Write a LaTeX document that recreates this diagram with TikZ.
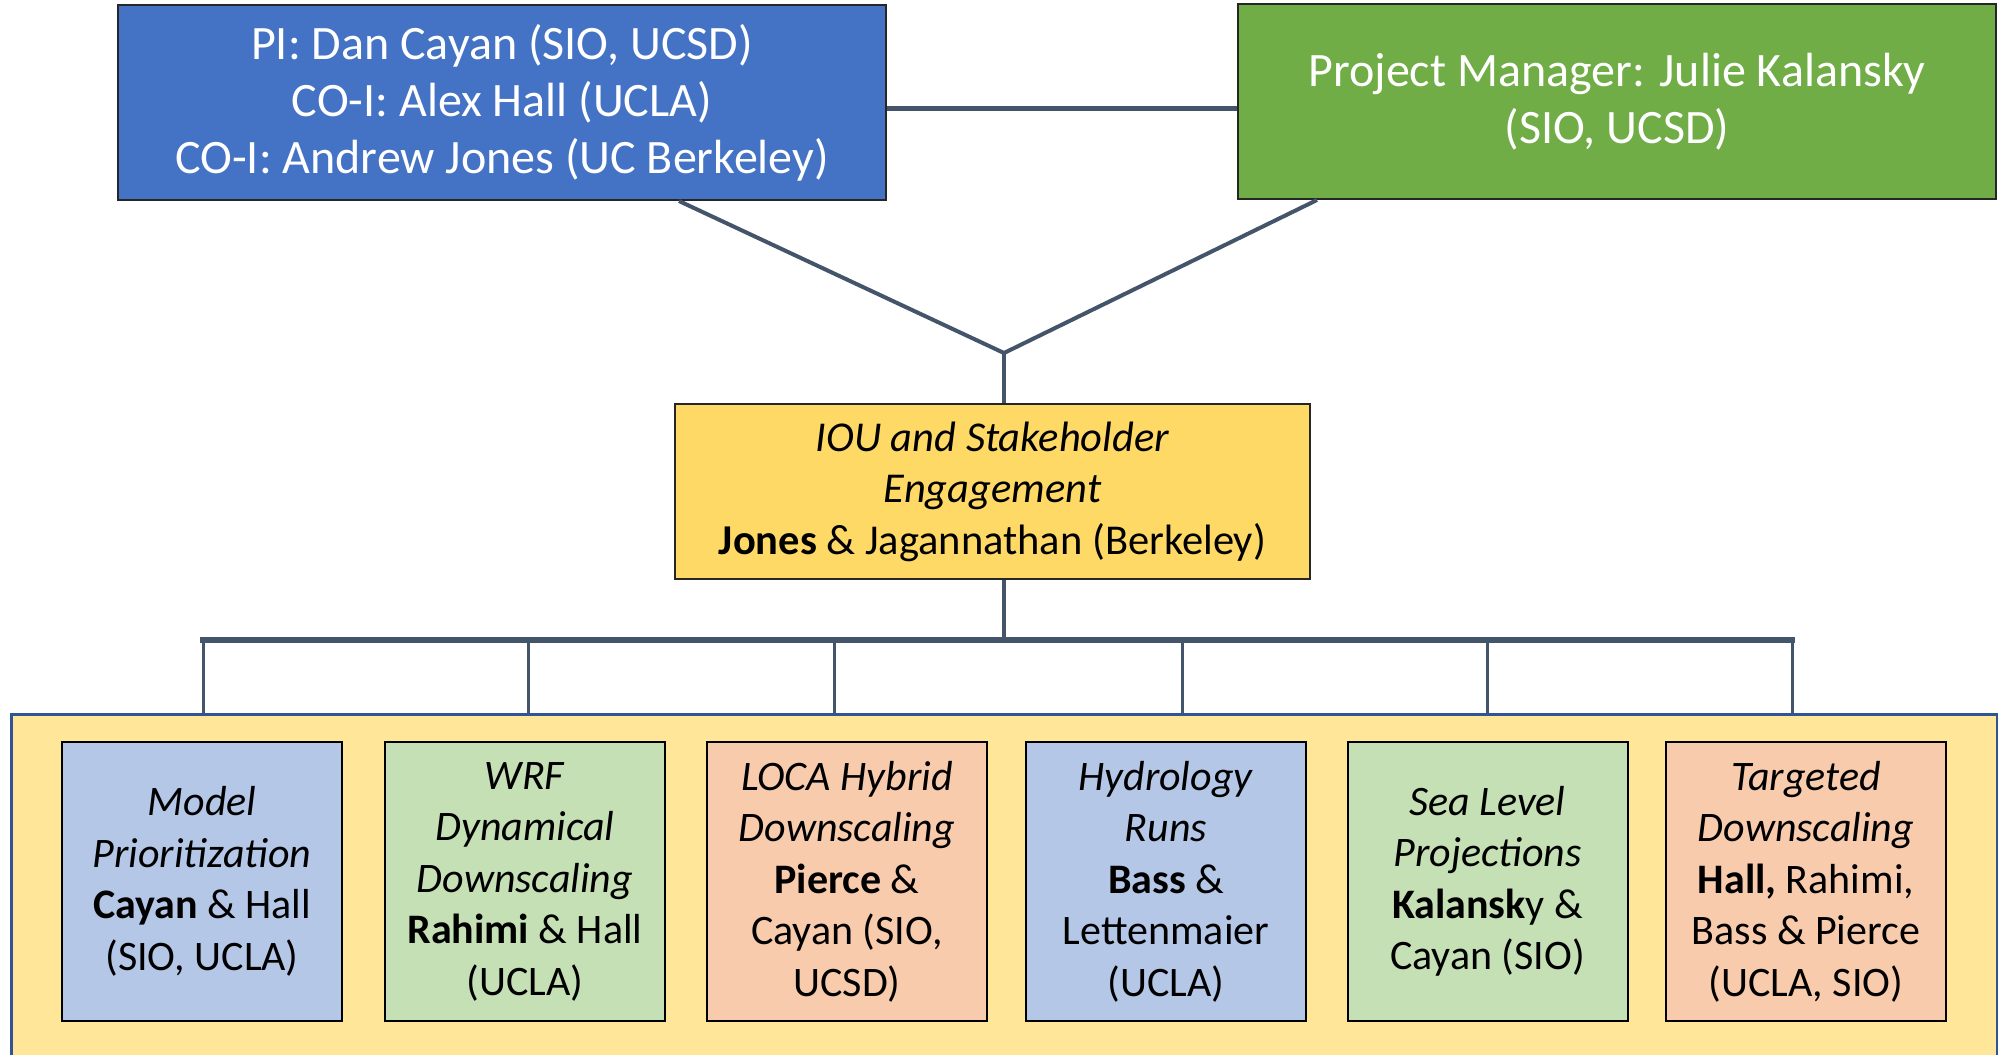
\documentclass[tikz,border=0pt]{standalone}
\usepackage{fontspec}
\setmainfont{Carlito}
\definecolor{pblue}{HTML}{4472C4}
\definecolor{pgreen}{HTML}{70AD47}
\definecolor{iouyel}{HTML}{FFD966}
\definecolor{contyel}{HTML}{FFE699}
\definecolor{contblue}{HTML}{2F5597}
\definecolor{lblue}{HTML}{B4C7E7}
\definecolor{lgreen}{HTML}{C5E0B4}
\definecolor{lpeach}{HTML}{F8CBAD}
\definecolor{connc}{HTML}{44546A}
\begin{document}
\begin{tikzpicture}[x=1pt,y=-1pt,
  topbox/.style={draw=black!85, line width=2pt, align=center, inner sep=0pt,
    font=\fontsize{48}{57}\selectfont, text=white},
  ioubox/.style={draw=black!85, line width=2pt, align=center, inner sep=0pt,
    fill=iouyel, font=\fontsize{42.5}{51.5}\selectfont, minimum width=635pt, minimum height=175pt},
  taskbox/.style={draw=black, line width=2pt, align=center, inner sep=0pt,
    font=\fontsize{42}{51.5}\selectfont, minimum width=280pt, minimum height=279pt},
  conn/.style={draw=connc, line width=4pt},
  thinconn/.style={draw=connc, line width=3pt},
]
\useasboundingbox (0,0) rectangle (1998,1055);
% top boxes
\node[topbox, fill=pblue, minimum width=768pt, minimum height=195pt] (pi) at (502,102.5)
  {PI: Dan Cayan (SIO, UCSD)\\CO-I: Alex Hall (UCLA)\\CO-I: Andrew Jones (UC Berkeley)};
\node[topbox, fill=pgreen, minimum width=758pt, minimum height=195pt] (pm) at (1617,101.5)
  {Project Manager: Julie Kalansky\\(SIO, UCSD)};
% IOU box
\node[ioubox] (iou) at (992.5,491.5)
  {\textit{IOU and Stakeholder}\\\textit{Engagement}\\\textbf{Jones} \& Jagannathan (Berkeley)};
% container
\node[draw=contblue, line width=3pt, fill=contyel, anchor=north west,
  minimum width=1986pt, minimum height=360pt, inner sep=0pt] (cont) at (10,713) {};
% task boxes
\node[taskbox, fill=lblue] (t1) at (202,881.5)
  {\textit{Model}\\\textit{Prioritization}\\\textbf{Cayan} \& Hall\\(SIO, UCLA)};
\node[taskbox, fill=lgreen] (t2) at (525,881.5)
  {\textit{WRF}\\\textit{Dynamical}\\\textit{Downscaling}\\\textbf{Rahimi} \& Hall\\(UCLA)};
\node[taskbox, fill=lpeach] (t3) at (847,881.5)
  {\textit{LOCA Hybrid}\\\textit{Downscaling}\\\textbf{Pierce} \&\\Cayan (SIO,\\UCSD)};
\node[taskbox, fill=lblue] (t4) at (1166,881.5)
  {\textit{Hydrology}\\\textit{Runs}\\\textbf{Bass} \&\\Lettenmaier\\(UCLA)};
\node[taskbox, fill=lgreen] (t5) at (1487.5,881.5)
  {\textit{Sea Level}\\\textit{Projections}\\\textbf{Kalansk}y \&\\Cayan (SIO)};
\node[taskbox, fill=lpeach] (t6) at (1806,881.5)
  {\textit{Targeted}\\\textit{Downscaling}\\\textbf{Hall,} Rahimi,\\Bass \& Pierce\\(UCLA, SIO)};
% connectors top
\draw[conn, line width=5pt] ([yshift=-5.5pt]pi.east) -- ([yshift=-5.5pt]pi.east -| pm.west);
\coordinate (j) at (1004,353);
\draw[conn] ([xshift=177pt]pi.south) -- (j);
\draw[conn] ([xshift=-300pt]pm.south) -- (j);
\draw[conn] (j) -- (j |- iou.north);
\coordinate (b) at (1004,640);
\draw[conn] (b |- iou.south) -- (b);
% bus
\coordinate (d1) at (203,640);
\coordinate (d2) at (528,640);
\coordinate (d3) at (834,640);
\coordinate (d4) at (1182,640);
\coordinate (d5) at (1487,640);
\coordinate (d6) at (1792,640);
\foreach \d in {d1,d2,d3,d4,d5,d6}{
  \draw[thinconn] (\d) -- (\d |- cont.north);
}
\draw[conn, line width=5.5pt, line cap=rect] (d1) -- (d6);
\end{tikzpicture}
\end{document}
